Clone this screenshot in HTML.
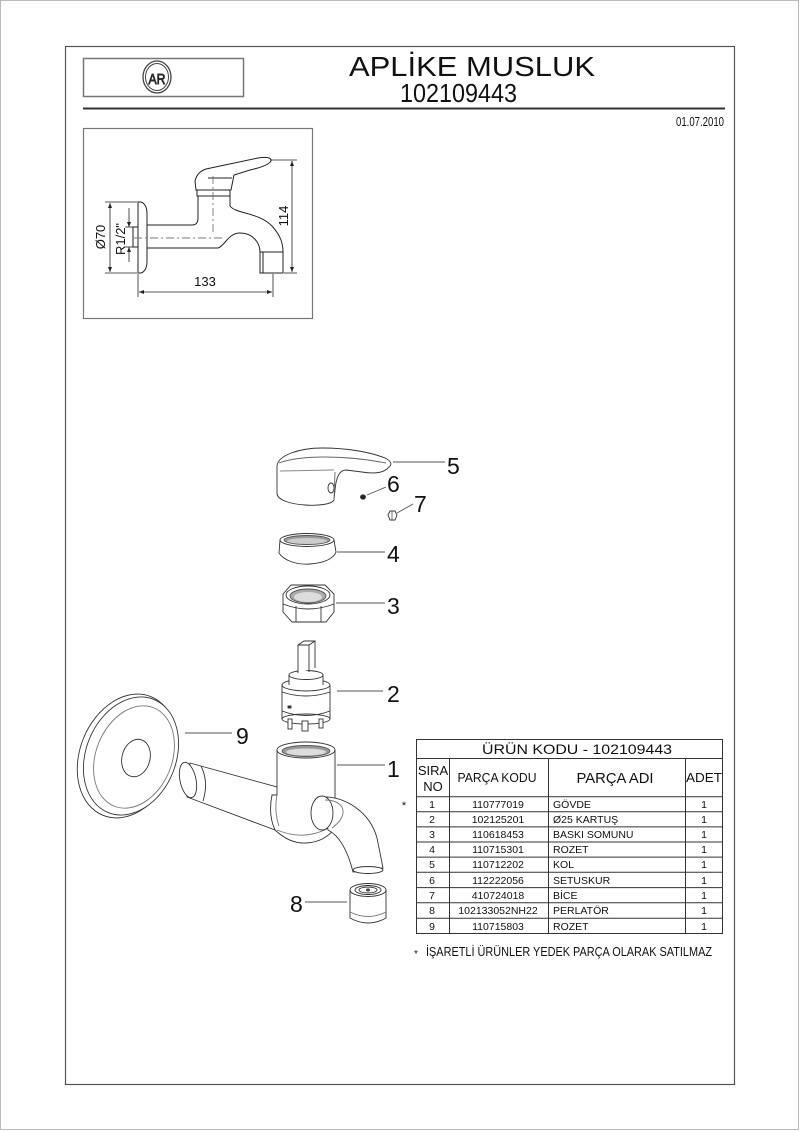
<!DOCTYPE html>
<html><head><meta charset="utf-8"><style>
html,body{margin:0;padding:0;background:#fff;}
svg{display:block;}
text{font-family:"Liberation Sans",Arial,sans-serif;fill:#111;}
</style></head><body>
<svg width="800" height="1131" viewBox="0 0 800 1131" xmlns="http://www.w3.org/2000/svg">
<defs>
<marker id="ar" viewBox="0 0 10 10" refX="10" refY="5" markerWidth="7" markerHeight="5" orient="auto-start-reverse" markerUnits="userSpaceOnUse">
<path d="M0,1 L10,5 L0,9 Z" fill="#222"/>
</marker>
</defs>
<!-- page border -->
<rect x="0.5" y="0.5" width="798" height="1129" fill="none" stroke="#bbb" stroke-width="1"/>
<!-- outer frame -->
<rect x="65.5" y="46.5" width="669" height="1038" fill="none" stroke="#555" stroke-width="1.2"/>
<!-- logo box -->
<rect x="83.5" y="58.5" width="160" height="38" fill="none" stroke="#777" stroke-width="1.5"/>
<ellipse cx="157" cy="77" rx="14" ry="16" fill="none" stroke="#444" stroke-width="1.3"/>
<ellipse cx="157" cy="77" rx="11.5" ry="13.5" fill="none" stroke="#444" stroke-width="1"/>
<text x="157" y="84" font-size="15" text-anchor="middle" fill="none" stroke="#333" stroke-width="0.9" textLength="17" lengthAdjust="spacingAndGlyphs">AR</text>
<!-- header -->
<text x="349" y="76" font-size="28" textLength="246" lengthAdjust="spacingAndGlyphs">APLİKE MUSLUK</text>
<text x="400" y="102" font-size="26" textLength="117" lengthAdjust="spacingAndGlyphs">102109443</text>
<line x1="83" y1="108.5" x2="725" y2="108.5" stroke="#333" stroke-width="2"/>
<text x="676" y="126" font-size="13" textLength="48" lengthAdjust="spacingAndGlyphs">01.07.2010</text>

<!-- dimension drawing box -->
<rect x="83.5" y="128.5" width="229" height="190" fill="none" stroke="#777" stroke-width="1.2"/>
<g stroke="#222" stroke-width="1" fill="#fff">
  <!-- rosette -->
  <path d="M138,202 L141,202 Q147,204 147,214 L147,261 Q147,271 141,273 L138,273 Z"/>
  <rect x="133" y="227" width="5" height="20"/>
  <!-- body -->
  <path d="M147,225 L192,225 Q198,225 198,218 L198,196 L230,196 L230,206 C236,214 258,212 272,226 C281,236 283,244 283,252 L260,252 C260,243 253,233 240,233 C228,233 225,246 218,248 L147,248 Z"/>
  <!-- aerator -->
  <rect x="260" y="252" width="23" height="21"/>
  <line x1="263" y1="252" x2="263" y2="273"/>
  <!-- handle -->
  <rect x="197" y="189" width="33" height="7"/>
  <path d="M196,190 L195,181 Q197,172 206,169 L258,158 Q272,156 271,161 Q268,166 250,170 L234,175 L231,190 Z"/>
  <line x1="208" y1="178" x2="232" y2="178"/>
</g>
<g stroke="#777" stroke-width="0.9" stroke-dasharray="8 3 2 3" fill="none">
  <line x1="213" y1="176" x2="213" y2="233"/>
  <line x1="134" y1="238" x2="222" y2="238"/>
</g>
<g stroke="#222" stroke-width="0.8" fill="none">
  <!-- Ø70 -->
  <line x1="105" y1="202" x2="137" y2="202"/>
  <line x1="105" y1="273" x2="137" y2="273"/>
  <line x1="110" y1="203" x2="110" y2="272" marker-start="url(#ar)" marker-end="url(#ar)"/>
  <!-- R1/2 -->
  <line x1="125" y1="227" x2="133" y2="227"/>
  <line x1="125" y1="247" x2="133" y2="247"/>
  <line x1="129" y1="208" x2="129" y2="227" marker-end="url(#ar)"/>
  <line x1="129" y1="262" x2="129" y2="247" marker-end="url(#ar)"/>
  <!-- 114 -->
  <line x1="270" y1="160" x2="297" y2="160"/>
  <line x1="284" y1="273" x2="297" y2="273"/>
  <line x1="292" y1="161" x2="292" y2="272" marker-start="url(#ar)" marker-end="url(#ar)"/>
  <!-- 133 -->
  <line x1="138" y1="274" x2="138" y2="297"/>
  <line x1="273" y1="274" x2="273" y2="297"/>
  <line x1="139" y1="292" x2="272" y2="292" marker-start="url(#ar)" marker-end="url(#ar)"/>
</g>
<text transform="translate(105,237) rotate(-90)" font-size="13" text-anchor="middle">Ø70</text>
<text transform="translate(125,239) rotate(-90)" font-size="13" text-anchor="middle">R1/2"</text>
<text transform="translate(288,216) rotate(-90)" font-size="13" text-anchor="middle">114</text>
<text x="205" y="286" font-size="13" text-anchor="middle">133</text>

<!-- ===== exploded view ===== -->
<g stroke="#333" stroke-width="0.9" fill="#fff">
  <!-- part 5 handle -->
  <path d="M277,466 C278,455 300,448 322,448 C347,448 370,452 385,458 Q395,463 388,468 C383,473 374,474 362,472 L346,470 C339,470 336,478 335,490 L334,500 C332,504 320,506 305,505 C290,504 278,500 277,494 Z"/>
  <path d="M279,463 C300,455 345,455 386,463" fill="none" stroke="#666"/>
  <path d="M280,471 L334,470" fill="none" stroke="#888"/>
  <ellipse cx="331" cy="488" rx="3" ry="5"/>
  <line x1="335" y1="472" x2="334" y2="500" stroke="#666"/>
  <!-- part 6 -->
  <ellipse cx="363" cy="497" rx="2.5" ry="2.2" fill="#222"/>
  <!-- part 7 -->
  <path d="M388,515 L390,511 L395,511 L397,515 L395,520 L390,520 Z" fill="#fff"/>
  <line x1="392" y1="511" x2="392" y2="520" stroke="#666"/>
  <!-- part 4 -->
  <path d="M280,540 L279,553 C284,561 298,565 310,564 C325,563 334,558 336,552 L334,540 Z"/>
  <ellipse cx="307" cy="540" rx="27" ry="6.5"/>
  <ellipse cx="307" cy="540" rx="23" ry="4.5" fill="#999" stroke="#555"/>
  <ellipse cx="307" cy="541" rx="20" ry="3" fill="#ccc" stroke="none"/>
  <!-- part 3 -->
  <path d="M283,594 L291,585 L325,585 L334,594 L334,612 L326,622 L292,622 L283,612 Z"/>
  <ellipse cx="308" cy="595" rx="22" ry="9" fill="#fff"/>
  <ellipse cx="308" cy="596" rx="18" ry="7" fill="#aaa" stroke="#555"/>
  <ellipse cx="308" cy="597" rx="14" ry="5" fill="#ddd" stroke="none"/>
  <line x1="296" y1="606" x2="296" y2="622"/>
  <line x1="321" y1="606" x2="321" y2="622"/>
  <path d="M283,604 Q308,614 334,604" fill="none"/>
  <!-- part 2 cartridge -->
  <rect x="282" y="685" width="48" height="34"/>
  <ellipse cx="306" cy="719" rx="24" ry="5"/>
  <rect x="288" y="719" width="4" height="10"/>
  <rect x="302" y="721" width="6" height="10"/>
  <rect x="319" y="719" width="4" height="9"/>
  <ellipse cx="306" cy="685" rx="24" ry="6"/>
  <path d="M289,685 L289,675 L323,675 L323,685" />
  <ellipse cx="306" cy="675" rx="17" ry="4.5"/>
  <path d="M282,711 Q306,720 330,711" fill="none"/>
  <path d="M282,692 Q306,700 330,692" fill="none"/>
  <rect x="288" y="706" width="3" height="2" fill="#333"/>
  <path d="M298,673 L298,645 L304,641 L315,641 L315,668" />
  <path d="M298,645 L309,645 L315,641" fill="none"/>
  <line x1="309" y1="645" x2="309" y2="672"/>
  <!-- part 9 rosette -->
  <ellipse cx="127" cy="756" rx="47" ry="64" transform="rotate(22 127 756)"/>
  <ellipse cx="131" cy="756" rx="45" ry="61" transform="rotate(22 131 756)"/>
  <ellipse cx="134" cy="757" rx="38" ry="53" transform="rotate(22 134 757)" stroke="#777"/>
  <ellipse cx="136" cy="758" rx="14" ry="19" transform="rotate(15 136 758)"/>
  <!-- part 1 pipe -->
  <path d="M190,763 L277,787 L283,833 L187,797 Z"/>
  <ellipse cx="188" cy="780" rx="8" ry="18" transform="rotate(-12 188 780)"/>
  <path d="M201,766 Q209,782 203,801" fill="none"/>
  <!-- body -->
  <path d="M272,795 Q268,815 275,830 Q290,844 306,843 Q325,842 335,828 L335,750 L277,750 L277,795 Z"/>
  <path d="M277,795 Q274,812 279,826" fill="none" stroke="#777"/>
  <path d="M277,830 Q306,842 332,826" fill="none" stroke="#777"/>
  <ellipse cx="306" cy="750" rx="29" ry="8"/>
  <ellipse cx="306" cy="751" rx="24" ry="5.5" fill="#999" stroke="#555"/>
  <ellipse cx="306" cy="752" rx="20" ry="3.5" fill="#ddd" stroke="none"/>
  <!-- spout -->
  <path d="M322,797 C345,796 370,812 377,838 L383,868 L353,872 C348,852 340,836 328,830 Z"/>
  <ellipse cx="322" cy="813" rx="11" ry="17"/>
  <path d="M325,800 C345,800 350,815 332,828" fill="none" stroke="#777"/>
  <ellipse cx="368" cy="870" rx="15" ry="3.5"/>
  <!-- part 8 aerator -->
  <path d="M350,890 L350,918 Q368,928 386,918 L386,890 Z"/>
  <path d="M350,912 Q368,921 386,912" fill="none" stroke="#777"/>
  <ellipse cx="368" cy="890" rx="18" ry="6.5"/>
  <ellipse cx="368" cy="890" rx="13" ry="4.5"/>
  <ellipse cx="368" cy="890" rx="9" ry="3"/>
  <ellipse cx="368" cy="890" rx="1.5" ry="1" fill="#555"/>
</g>
<!-- leaders -->
<g stroke="#555" stroke-width="0.9">
  <line x1="393" y1="462" x2="445" y2="462"/>
  <line x1="367" y1="495" x2="386" y2="487"/>
  <line x1="397" y1="513" x2="413" y2="504"/>
  <line x1="337" y1="552" x2="385" y2="552"/>
  <line x1="336" y1="603" x2="385" y2="603"/>
  <line x1="337" y1="691" x2="383" y2="691"/>
  <line x1="185" y1="733" x2="232" y2="733"/>
  <line x1="337" y1="765" x2="385" y2="765"/>
  <line x1="305" y1="902" x2="347" y2="902"/>
</g>
<g font-size="23">
  <text x="447" y="474">5</text>
  <text x="387" y="492">6</text>
  <text x="414" y="512">7</text>
  <text x="387" y="562">4</text>
  <text x="387" y="614">3</text>
  <text x="387" y="702">2</text>
  <text x="236" y="744">9</text>
  <text x="387" y="777">1</text>
  <text x="290" y="912">8</text>
</g>
<text x="404" y="809" font-size="11" text-anchor="middle">*</text>

<!-- table -->
<g stroke="#333" stroke-width="1" fill="none">
  <rect x="416.5" y="739.5" width="306" height="194"/>
  <line x1="416" y1="758.5" x2="723" y2="758.5"/>
  <line x1="416" y1="796.7" x2="723" y2="796.7"/>
  <line x1="416" y1="811.8" x2="723" y2="811.8"/>
  <line x1="416" y1="826.9" x2="723" y2="826.9"/>
  <line x1="416" y1="842" x2="723" y2="842"/>
  <line x1="416" y1="857.1" x2="723" y2="857.1"/>
  <line x1="416" y1="872.3" x2="723" y2="872.3"/>
  <line x1="416" y1="887.6" x2="723" y2="887.6"/>
  <line x1="416" y1="902.8" x2="723" y2="902.8"/>
  <line x1="416" y1="918.2" x2="723" y2="918.2"/>
  <line x1="449.5" y1="758" x2="449.5" y2="933"/>
  <line x1="548.5" y1="758" x2="548.5" y2="933"/>
  <line x1="685.5" y1="758" x2="685.5" y2="933"/>
</g>
<text x="577" y="754" font-size="14" text-anchor="middle" textLength="190" lengthAdjust="spacingAndGlyphs">ÜRÜN KODU - 102109443</text>
<text x="433" y="775" font-size="13" text-anchor="middle">SIRA</text>
<text x="433" y="791" font-size="13" text-anchor="middle">NO</text>
<text x="497" y="782" font-size="13" text-anchor="middle" textLength="79" lengthAdjust="spacingAndGlyphs">PARÇA KODU</text>
<text x="615" y="783" font-size="15" text-anchor="middle" textLength="77" lengthAdjust="spacingAndGlyphs">PARÇA ADI</text>
<text x="704" y="782" font-size="13" text-anchor="middle" textLength="36" lengthAdjust="spacingAndGlyphs">ADET</text>
<g font-size="10.5">
  <g text-anchor="middle">
    <text x="432" y="808">1</text><text x="432" y="823">2</text><text x="432" y="838">3</text>
    <text x="432" y="853">4</text><text x="432" y="868">5</text><text x="432" y="884">6</text>
    <text x="432" y="899">7</text><text x="432" y="914">8</text><text x="432" y="930">9</text>
    <text x="498" y="808">110777019</text><text x="498" y="823">102125201</text><text x="498" y="838">110618453</text>
    <text x="498" y="853">110715301</text><text x="498" y="868">110712202</text><text x="498" y="884">112222056</text>
    <text x="498" y="899">410724018</text><text x="498" y="914">102133052NH22</text><text x="498" y="930">110715803</text>
    <text x="704" y="808">1</text><text x="704" y="823">1</text><text x="704" y="838">1</text>
    <text x="704" y="853">1</text><text x="704" y="868">1</text><text x="704" y="884">1</text>
    <text x="704" y="899">1</text><text x="704" y="914">1</text><text x="704" y="930">1</text>
  </g>
  <text x="553" y="808">GÖVDE</text><text x="553" y="823">Ø25 KARTUŞ</text><text x="553" y="838">BASKI SOMUNU</text>
  <text x="553" y="853">ROZET</text><text x="553" y="868">KOL</text><text x="553" y="884">SETUSKUR</text>
  <text x="553" y="899">BİCE</text><text x="553" y="914">PERLATÖR</text><text x="553" y="930">ROZET</text>
</g>
<text x="416" y="957" font-size="10" text-anchor="middle">*</text>
<text x="426" y="956" font-size="13" textLength="286" lengthAdjust="spacingAndGlyphs">İŞARETLİ ÜRÜNLER YEDEK PARÇA OLARAK SATILMAZ</text>
</svg>
</body></html>
